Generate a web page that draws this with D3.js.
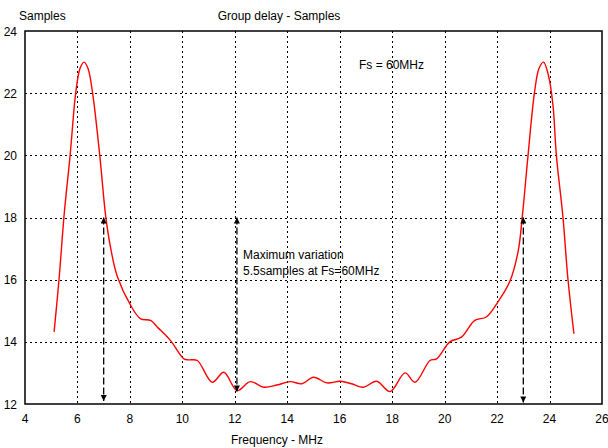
<!DOCTYPE html>
<html>
<head>
<meta charset="utf-8">
<script src="https://cdn.jsdelivr.net/npm/d3@7"></script>
<style>
  body { margin: 0; background: #fff; }
  svg { display: block; font-family: "Liberation Sans", Arial, sans-serif; }
</style>
</head>
<body>
<svg id="chart" width="608" height="448"></svg>
<script>
// group delay curve
const freq = [5.11, 5.30, 5.49, 5.72, 5.94, 6.10, 6.25, 6.40, 6.57, 6.85, 7.08, 7.27, 7.52, 8.03,
  8.41, 8.79, 9.04, 9.55, 10.06, 10.25, 10.57, 11.14, 11.58, 12.09, 12.59, 13.10, 13.61, 14.11,
  14.56, 15.00, 15.51, 16.02, 16.45, 16.90, 17.41, 17.92, 18.49, 18.87, 19.44, 19.69, 20.20,
  20.64, 21.15, 21.59, 22.03, 22.48, 22.80, 22.96, 23.18, 23.43, 23.60, 23.77, 23.95, 24.13,
  24.26, 24.51, 24.70, 24.93];
const delay = [14.32, 16.03, 18.07, 20.0, 22.05, 22.8, 23.0, 22.8, 22.05, 20.0, 18.02, 17.0, 16.1, 15.17,
  14.74, 14.69, 14.48, 14.04, 13.45, 13.42, 13.40, 12.70, 13.02, 12.43, 12.72, 12.54, 12.61, 12.72,
  12.65, 12.86, 12.68, 12.73, 12.65, 12.54, 12.73, 12.40, 13.0, 12.70, 13.40, 13.45, 14.0,
  14.15, 14.69, 14.80, 15.28, 15.93, 16.9, 18.02, 20.0, 22.05, 22.8, 23.0, 22.6, 21.62,
  20.0, 18.02, 16.03, 14.26];

const xTicks = [4, 6, 8, 10, 12, 14, 16, 18, 20, 22, 24, 26];
const yTicks = [12, 14, 16, 18, 20, 22, 24];

// double headed dashed arrows: x, from, to
const arrowX = [7, 12.08, 23];
const arrowTop = [18, 18, 18];
const arrowBottom = [12.1, 12.4, 12.05];

const svg = d3.select('#chart');

const x = d3.scaleLinear().domain([4, 26]).range([25, 602]);
const y = d3.scaleLinear().domain([12, 24]).range([404, 31]);

// grid
const grid = svg.append('g')
  .attr('stroke', '#000')
  .attr('stroke-width', 1)
  .attr('stroke-dasharray', '2,3');

grid.selectAll('.vg')
  .data(xTicks.slice(1, -1))
  .enter().append('line')
  .attr('x1', d => Math.round(x(d)) + 0.5)
  .attr('x2', d => Math.round(x(d)) + 0.5)
  .attr('y1', y(24))
  .attr('y2', y(12));

grid.selectAll('.hg')
  .data(yTicks.slice(1, -1))
  .enter().append('line')
  .attr('y1', d => Math.round(y(d)) + 0.5)
  .attr('y2', d => Math.round(y(d)) + 0.5)
  .attr('x1', x(4))
  .attr('x2', x(26));

// frame
svg.append('rect')
  .attr('x', x(4))
  .attr('y', y(24))
  .attr('width', x(26) - x(4))
  .attr('height', y(12) - y(24))
  .attr('fill', 'none')
  .attr('stroke', '#000')
  .attr('stroke-width', 1.5);

// tick labels
svg.append('g')
  .selectAll('text')
  .data(xTicks)
  .enter().append('text')
  .attr('x', d => x(d))
  .attr('y', 423)
  .attr('text-anchor', 'middle')
  .attr('font-size', 12)
  .text(d => d);

svg.append('g')
  .selectAll('text')
  .data(yTicks)
  .enter().append('text')
  .attr('x', 17)
  .attr('y', d => y(d) + 4.5)
  .attr('text-anchor', 'end')
  .attr('font-size', 12)
  .text(d => d);

// titles
svg.append('text').attr('x', 19).attr('y', 20).attr('font-size', 12).text('Samples');
svg.append('text').attr('x', 279).attr('y', 20).attr('font-size', 12)
  .attr('text-anchor', 'middle').text('Group delay - Samples');
svg.append('text').attr('x', 277).attr('y', 444).attr('font-size', 12)
  .attr('text-anchor', 'middle').text('Frequency - MHz');

// curve
const points = freq.map((f, i) => [f, delay[i]]);
const line = d3.line()
  .x(d => x(d[0]))
  .y(d => y(d[1]))
  .curve(d3.curveCatmullRom.alpha(0.5));

svg.append('path')
  .datum(points)
  .attr('d', line)
  .attr('fill', 'none')
  .attr('stroke', '#ff0000')
  .attr('stroke-width', 1.4);

// arrow markers
const defs = svg.append('defs');
defs.append('marker')
  .attr('id', 'head')
  .attr('viewBox', '0 0 10 10')
  .attr('refX', 10)
  .attr('refY', 5)
  .attr('markerWidth', 8)
  .attr('markerHeight', 6)
  .attr('markerUnits', 'userSpaceOnUse')
  .attr('orient', 'auto-start-reverse')
  .append('path')
  .attr('d', 'M0,0L10,5L0,10Z')
  .attr('fill', '#000');

svg.append('g')
  .selectAll('line')
  .data(arrowX)
  .enter().append('line')
  .attr('x1', d => x(d))
  .attr('x2', d => x(d))
  .attr('y1', (d, i) => y(arrowTop[i]))
  .attr('y2', (d, i) => y(arrowBottom[i]))
  .attr('stroke', '#000')
  .attr('stroke-width', 1.3)
  .attr('stroke-dasharray', '7,3')
  .attr('marker-start', 'url(#head)')
  .attr('marker-end', 'url(#head)');

// annotations
svg.append('text').attr('x', 359).attr('y', 69).attr('font-size', 12).text('Fs = 60MHz');
svg.append('text').attr('x', 243).attr('y', 259).attr('font-size', 12).text('Maximum variation');
svg.append('text').attr('x', 243).attr('y', 275).attr('font-size', 12).text('5.5samples at Fs=60MHz');
</script>
</body>
</html>
